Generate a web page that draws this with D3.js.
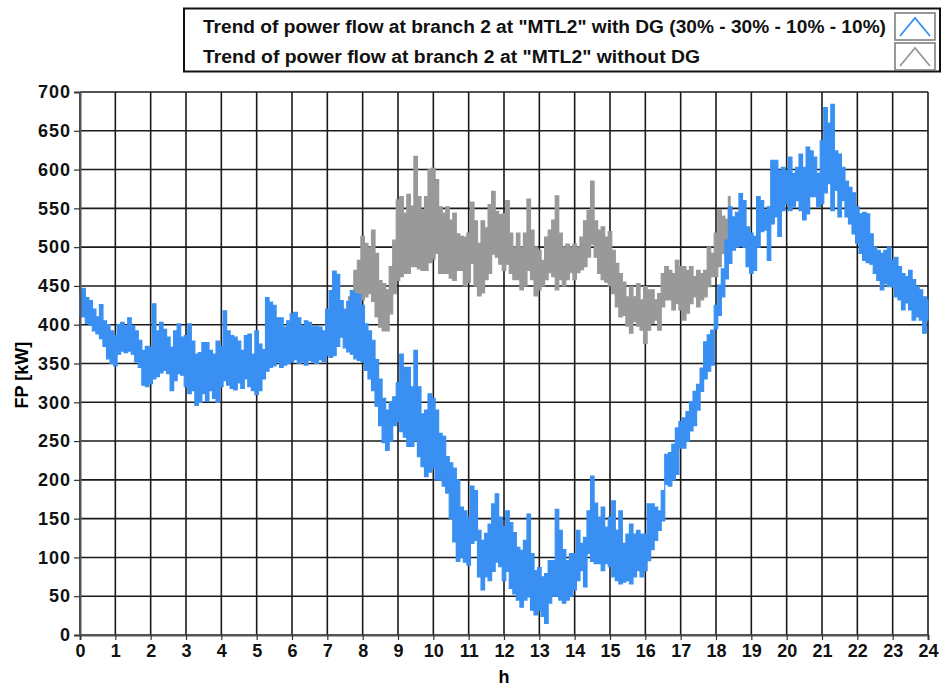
<!DOCTYPE html>
<html>
<head>
<meta charset="utf-8">
<script src="https://cdn.jsdelivr.net/npm/d3@7"></script>
<style>
  html, body { margin: 0; padding: 0; background: #fff; }
  svg { display: block; font-family: "Liberation Sans", Arial, sans-serif; }
</style>
</head>
<body>
<svg id="chart" width="949" height="686"></svg>
<script>
// Sampling step of the traces, in hours
const stepH = 0.1;

// Branch 2 power flow with DG: upper / lower extent of the trace per 0.1 h, from 0 h to 24 h
const withDGHigh = [
  440,447,435,431,420,410,426,405,400,392,
  386,400,403,398,409,399,392,380,367,372,
  371,427,392,403,394,384,371,392,401,384,
  386,401,379,362,364,377,377,367,362,379,
  372,418,392,386,384,379,367,386,388,362,
  392,375,368,435,429,425,409,409,397,405,
  414,416,409,398,405,403,398,398,397,392,
  420,444,469,465,431,420,430,444,440,439,
  425,401,392,380,355,330,305,290,300,307,
  325,362,345,345,320,367,320,285,290,311,
  305,290,260,256,230,222,215,200,165,160,
  152,192,186,135,122,131,143,169,182,152,
  140,160,145,132,113,109,122,156,105,83,
  87,75,79,96,96,162,135,110,96,105,
  105,135,118,126,160,205,170,152,165,139,
  152,173,135,160,118,130,143,130,135,130,
  130,169,169,165,160,186,233,235,246,267,
  275,280,288,301,314,323,344,378,387,393,
  425,451,472,509,552,539,545,569,560,526,
  518,514,565,560,548,552,612,612,599,603,
  599,616,595,603,620,603,629,624,616,595,
  637,680,660,684,624,620,603,585,577,570,
  552,543,545,543,517,500,496,492,496,500,
  483,487,475,466,462,470,458,449,445,436,
  432
];
const withDGLow = [
  412,410,402,399,392,388,382,372,356,350,
  347,362,366,364,366,362,352,345,322,320,
  324,330,333,338,341,337,315,328,337,335,
  320,311,315,296,300,311,301,315,305,300,
  320,328,322,318,316,325,318,330,320,315,
  310,315,330,340,345,347,352,345,348,350,
  352,355,350,352,348,354,352,350,355,352,
  360,358,360,372,384,370,365,362,356,354,
  352,341,330,315,295,270,248,238,250,270,
  275,262,255,243,243,251,230,217,204,210,
  215,200,200,192,183,150,120,95,100,94,
  90,118,122,75,58,75,70,82,94,88,
  70,82,60,53,45,36,45,49,32,26,
  32,24,15,41,50,50,45,41,45,50,
  58,70,83,62,105,95,92,92,83,92,
  88,75,70,66,68,70,66,75,83,75,
  83,96,110,122,135,147,194,192,200,207,
  241,241,250,263,270,290,314,330,340,348,
  395,412,436,459,479,496,500,502,500,475,
  466,470,500,520,522,483,530,539,514,547,
  556,547,552,560,547,535,543,565,565,552,
  556,570,582,547,573,539,560,539,530,517,
  505,492,483,480,478,466,457,445,453,449,
  449,436,432,419,428,419,406,410,406,389,
  406
];

// Branch 2 power flow without DG: from 7.6 h to 18.4 h, per 0.1 h
const withoutDGStart = 7.6;
const withoutDGHigh = [
  436,436,470,483,514,505,500,522,492,457,
  453,445,475,509,561,565,544,568,553,617,
  565,548,565,600,602,587,552,544,552,535,
  544,517,514,513,518,558,534,505,534,525,
  555,572,546,542,543,560,518,500,518,500,
  518,562,522,500,496,483,513,522,535,566,
  518,500,504,500,504,500,513,534,547,585,
  534,522,526,513,520,496,479,466,455,436,
  449,436,453,432,449,445,445,432,440,466,
  475,470,466,483,475,475,470,475,462,470,
  466,470,500,492,518,548,540,536,565
];
const withoutDGLow = [
  414,416,418,420,432,436,440,430,410,397,
  392,392,414,440,457,462,466,466,475,475,
  472,470,470,480,485,492,466,466,466,460,
  457,470,470,450,455,479,450,437,441,458,
  466,491,487,478,470,478,466,458,458,445,
  450,470,458,437,445,450,458,467,462,445,
  458,450,458,467,458,467,471,475,487,504,
  487,466,458,455,450,440,423,410,412,398,
  389,404,398,393,376,393,402,406,393,423,
  432,432,419,427,419,406,415,427,436,423,
  432,436,449,462,462,475,492,490,500
];

// Axis ticks and legend text
const xTicks = d3.range(0, 25, 1);
const yTicks = [0,50,100,150,200,250,300,350,400,450,500,550,600,650,700];
const legendLabels = [
  'Trend of power flow at branch 2 at "MTL2" with DG (30% - 30% - 10% - 10%)',
  'Trend of power flow at branch 2 at "MTL2" without DG'
];
const legendWidths = [683, 497];
const seriesColors = ["#3990f2", "#999999"];

const svg = d3.select("#chart");
const margin = { left: 80, right: 21, top: 92, bottom: 51 };
const W = 949, H = 686;
const x = d3.scaleLinear().domain([0, 24]).range([margin.left, W - margin.right]);
const y = d3.scaleLinear().domain([0, 700]).range([H - margin.bottom, margin.top]);

// grid
const grid = svg.append("g");
grid.selectAll("line.v").data(xTicks).join("line")
  .attr("x1", d => x(d)).attr("x2", d => x(d))
  .attr("y1", y(0)).attr("y2", y(700))
  .attr("stroke", "#1a1a1a").attr("stroke-width", 1.6);
grid.selectAll("line.h").data(yTicks).join("line")
  .attr("x1", x(0)).attr("x2", x(24))
  .attr("y1", d => y(d)).attr("y2", d => y(d))
  .attr("stroke", "#1a1a1a").attr("stroke-width", 1.6);

// traces as filled bands between the lower and upper extent
function band(high, low, start) {
  return high.map((h, i) => ({ t: start + i * stepH, hi: h, lo: low[i] }));
}
const area = d3.area()
  .x(d => x(d.t)).y0(d => y(d.lo)).y1(d => y(d.hi))
  .curve(d3.curveStep);

const grayData = band(withoutDGHigh, withoutDGLow, withoutDGStart);
const blueData = band(withDGHigh, withDGLow, 0);

svg.append("path").datum(grayData).attr("d", area)
  .attr("fill", seriesColors[1]).attr("stroke", seriesColors[1]).attr("stroke-width", 1.2);
svg.append("path").datum(blueData).attr("d", area)
  .attr("fill", seriesColors[0]).attr("stroke", seriesColors[0]).attr("stroke-width", 1.2);

// axes
const yAxis = d3.axisLeft(y).tickValues(yTicks).tickSize(6).tickPadding(3);
const gy = svg.append("g").attr("transform", `translate(${x(0)},0)`).call(yAxis);
const xAxis = d3.axisBottom(x).tickValues(xTicks).tickSize(5).tickPadding(4);
const gx = svg.append("g").attr("transform", `translate(0,${y(0)})`).call(xAxis);
[gx, gy].forEach(g => {
  g.select(".domain").attr("stroke", "#555").attr("stroke-width", 2);
  g.selectAll(".tick line").attr("stroke", "#333").attr("stroke-width", 1.2);
  g.selectAll(".tick text").attr("fill", "#111")
    .style("font-size", "18px").style("font-weight", "bold")
    .style("font-family", '"Liberation Sans", Arial, sans-serif');
});
gy.selectAll(".tick text").style("letter-spacing", "1px");

// axis titles
svg.append("text").attr("x", x(12)).attr("y", 683)
  .attr("text-anchor", "middle").attr("font-size", 18).attr("font-weight", "bold").text("h");
svg.append("text").attr("transform", `translate(28,${y(335)}) rotate(-90)`)
  .attr("text-anchor", "middle").attr("font-size", 18).attr("font-weight", "bold").text("FP [kW]");

// legend
const lg = svg.append("g");
lg.append("rect").attr("x", 184).attr("y", 8.5).attr("width", 756).attr("height", 63)
  .attr("fill", "#fff").attr("stroke", "#111").attr("stroke-width", 2);
legendLabels.forEach((label, i) => {
  const cy = 26 + i * 30;
  lg.append("text").attr("x", 203).attr("y", cy + 7)
    .attr("font-size", 18).attr("font-weight", "bold").attr("fill", "#111")
    .attr("textLength", legendWidths[i]).attr("lengthAdjust", "spacingAndGlyphs")
    .text(label);
  const bx = 895, by = cy - 13;
  lg.append("rect").attr("x", bx).attr("y", by).attr("width", 40).attr("height", 27)
    .attr("fill", "#fff").attr("stroke", "#777").attr("stroke-width", 1.5);
  lg.append("path")
    .attr("d", `M${bx + 5},${by + 23} L${bx + 20},${by + 5} L${bx + 35},${by + 23}`)
    .attr("fill", "none").attr("stroke", seriesColors[i]).attr("stroke-width", 1.8);
});
</script>
</body>
</html>
